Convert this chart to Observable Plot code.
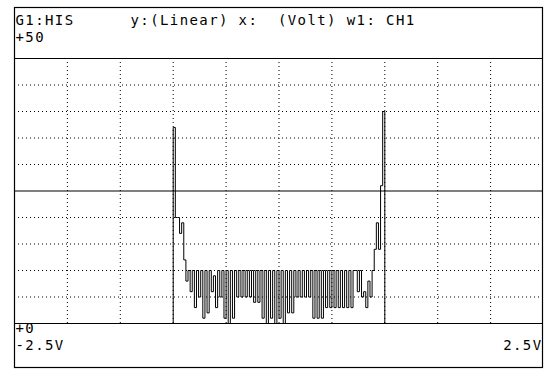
<!DOCTYPE html>
<html>
<head>
<meta charset="utf-8">
<script src="https://cdn.jsdelivr.net/npm/d3@7"></script>
<script src="https://cdn.jsdelivr.net/npm/@observablehq/plot@0.6"></script>
<style>
  html, body { margin: 0; padding: 0; background: #fff; }
  svg text { white-space: pre; letter-spacing: 1.4px; }
</style>
</head>
<body>
<div id="chart"></div>
<script>
// ---- data ----
const titleLeft = ["G1:HIS"];
const titleRight = ["y:(Linear) x:  (Volt) w1: CH1"];
const yTopLabel = ["+50"];
const yBottomLabel = ["+0"];
const xLeftLabel = ["-2.5V"];
const xRightLabel = ["2.5V"];
const xDomain = [-2.5, 2.5];
const yDomain = [0, 50];
const xGrid = [-2, -1.5, -1, -0.5, 0, 0.5, 1, 1.5, 2];
const yGrid = [5, 10, 15, 20, 30, 35, 40, 45];
const yMidLine = [25];
const binStart = -1.0;
const binWidth = 0.02;
const counts = [
  37, 20, 20, 17, 19, 12, 8, 10, 6, 10,
  3, 10, 5, 10, 1, 10, 2, 10, 6, 9,
  3, 10, 5, 10, 1, 10, 0, 10, 1, 10,
  5, 10, 5, 10, 5, 10, 5, 10, 4, 10,
  4, 10, 1, 10, 0, 10, 1, 10, 0, 10,
  1, 10, 0, 10, 2, 10, 2, 10, 5, 10,
  5, 10, 5, 10, 5, 10, 1, 10, 1, 10,
  1, 10, 3, 10, 3, 10, 3, 10, 3, 10,
  3, 10, 3, 10, 3, 10, 10, 6, 10, 5,
  6, 3, 8, 5, 10, 14, 19, 14, 26, 40
];

// outline of the histogram (step line)
const outline = [{x: binStart, y: 0}];
counts.forEach((c, i) => outline.push({x: binStart + i * binWidth, y: c}));
outline.push({x: binStart + counts.length * binWidth, y: counts[counts.length - 1]});
outline.push({x: binStart + counts.length * binWidth, y: 0});

const font = "DejaVu Sans Mono";
const fs = 14;
const txt = (data, opts) => Plot.text(data, {text: d => d, fontFamily: font, fontSize: fs, fill: "#000", ...opts});

const chart = Plot.plot({
  width: 545,
  height: 370,
  marginTop: 58,
  marginBottom: 47,
  marginLeft: 14,
  marginRight: 2,
  style: {background: "#fff", overflow: "visible"},
  x: {domain: xDomain, axis: null},
  y: {domain: yDomain, axis: null},
  marks: [
    Plot.ruleY(yGrid, {stroke: "#000", strokeDasharray: "1,3"}),
    Plot.ruleX(xGrid, {stroke: "#000", strokeDasharray: "1,3"}),
    Plot.ruleY(yMidLine, {stroke: "#000", strokeWidth: 1.2}),
    Plot.ruleY(yDomain, {stroke: "#000", strokeWidth: 1.2}),
    Plot.line(outline, {x: "x", y: "y", curve: "step-after", stroke: "#000", strokeWidth: 1}),
    txt(titleLeft, {frameAnchor: "top-left", textAnchor: "start", dx: 1, dy: -43}),
    txt(titleRight, {frameAnchor: "top-left", textAnchor: "start", dx: 116, dy: -43}),
    txt(yTopLabel, {frameAnchor: "top-left", textAnchor: "start", dx: 1, dy: -26.5}),
    txt(yBottomLabel, {frameAnchor: "bottom-left", textAnchor: "start", dx: 1, dy: 9}),
    txt(xLeftLabel, {frameAnchor: "bottom-left", textAnchor: "start", dx: 1, dy: 26}),
    txt(xRightLabel, {frameAnchor: "bottom-right", textAnchor: "end", dx: -1, dy: 26})
  ]
});

// outer border of the screen
d3.select(chart).append("rect")
  .attr("x", 14.5).attr("y", 7.5)
  .attr("width", 528).attr("height", 360)
  .attr("fill", "none").attr("stroke", "#000").attr("stroke-width", 1.2);

document.getElementById("chart").appendChild(chart);
</script>
</body>
</html>
